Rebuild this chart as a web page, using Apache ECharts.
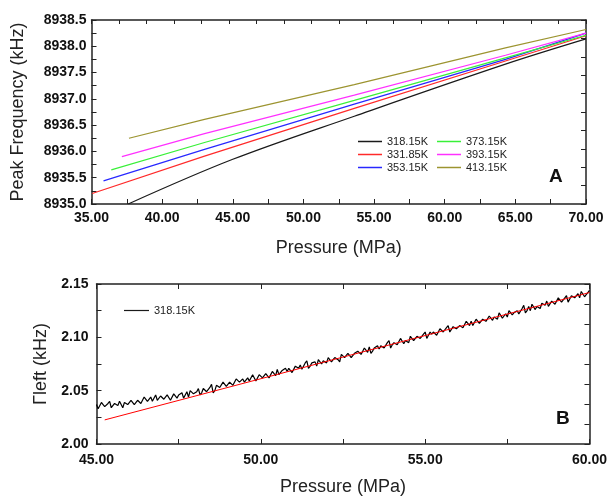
<!DOCTYPE html>
<html>
	<head>
		<meta charset="utf-8">
		<title>Peak frequency / Γleft vs pressure</title>
		<script src="https://cdn.jsdelivr.net/npm/echarts@6/dist/echarts.min.js"></script>
		<style>
			html,body {
				margin: 0;
				padding: 0;
				background-color: #fff;
			}
			#main{
				width: 610px;
				height: 497px;
			}
		</style>
	</head>
	<body>
		<div id="main"></div>
	<script>
		// ---- panel A : peak frequency vs pressure ----
		var tempsA = ['318.15K', '331.85K', '353.15K', '373.15K', '393.15K', '413.15K'];
		var pressA318 = [37.6, 45.0, 53.6, 64.3, 70.0];
		var freqA318  = [8935.00, 8935.85, 8936.67, 8937.66, 8938.14];
		var pressA331 = [35.05, 43.0, 53.6, 64.3, 70.0];
		var freqA331  = [8935.20, 8935.91, 8936.82, 8937.72, 8938.20];
		var pressA353 = [35.85, 43.0, 53.6, 64.3, 70.0];
		var freqA353  = [8935.44, 8936.04, 8936.90, 8937.75, 8938.25];
		var pressA373 = [36.4, 43.0, 53.6, 64.3, 70.0];
		var freqA373  = [8935.65, 8936.17, 8936.97, 8937.78, 8938.21];
		var pressA393 = [37.15, 43.0, 53.6, 64.3, 70.0];
		var freqA393  = [8935.90, 8936.34, 8937.07, 8937.83, 8938.25];
		var pressA413 = [37.65, 43.0, 53.6, 64.3, 70.0];
		var freqA413  = [8936.25, 8936.61, 8937.27, 8937.97, 8938.32];

		// ---- panel B : Γleft at 318.15K, sampled every 0.05 MPa from 45.0 ----
		var pressB0 = 45.0, pressBStep = 0.05;
		var gammaB = [
			2.037, 2.033, 2.032, 2.039, 2.037, 2.035, 2.035, 2.038, 2.040, 2.034,
			2.035, 2.038, 2.037, 2.036, 2.040, 2.041, 2.034, 2.039, 2.040, 2.037,
			2.038, 2.041, 2.042, 2.037, 2.038, 2.041, 2.041, 2.038, 2.038, 2.044,
			2.043, 2.040, 2.041, 2.044, 2.040, 2.039, 2.046, 2.041, 2.042, 2.045,
			2.044, 2.042, 2.042, 2.046, 2.047, 2.041, 2.042, 2.047, 2.046, 2.043,
			2.046, 2.047, 2.048, 2.043, 2.046, 2.049, 2.044, 2.050, 2.050, 2.047,
			2.048, 2.049, 2.052, 2.046, 2.048, 2.052, 2.051, 2.049, 2.050, 2.053,
			2.056, 2.048, 2.050, 2.055, 2.055, 2.053, 2.052, 2.058, 2.057, 2.054,
			2.055, 2.058, 2.059, 2.055, 2.055, 2.061, 2.061, 2.058, 2.059, 2.061,
			2.058, 2.059, 2.062, 2.059, 2.060, 2.065, 2.065, 2.059, 2.059, 2.065,
			2.066, 2.062, 2.063, 2.066, 2.066, 2.062, 2.063, 2.068, 2.068, 2.064,
			2.070, 2.065, 2.066, 2.069, 2.068, 2.071, 2.068, 2.071, 2.072, 2.067,
			2.068, 2.073, 2.072, 2.071, 2.074, 2.070, 2.071, 2.076, 2.078, 2.071,
			2.073, 2.076, 2.075, 2.077, 2.073, 2.079, 2.079, 2.075, 2.078, 2.077,
			2.076, 2.081, 2.082, 2.077, 2.079, 2.081, 2.081, 2.079, 2.077, 2.084,
			2.084, 2.081, 2.083, 2.085, 2.086, 2.081, 2.082, 2.085, 2.084, 2.087,
			2.088, 2.084, 2.083, 2.090, 2.088, 2.086, 2.091, 2.085, 2.087, 2.090,
			2.090, 2.092, 2.089, 2.092, 2.093, 2.090, 2.089, 2.095, 2.097, 2.090,
			2.093, 2.095, 2.095, 2.093, 2.093, 2.099, 2.098, 2.094, 2.097, 2.098,
			2.095, 2.101, 2.101, 2.097, 2.098, 2.101, 2.101, 2.099, 2.099, 2.103,
			2.105, 2.099, 2.100, 2.105, 2.103, 2.105, 2.105, 2.102, 2.102, 2.108,
			2.108, 2.105, 2.105, 2.109, 2.111, 2.105, 2.106, 2.110, 2.110, 2.108,
			2.109, 2.111, 2.112, 2.109, 2.108, 2.115, 2.113, 2.111, 2.115, 2.111,
			2.112, 2.117, 2.117, 2.113, 2.114, 2.117, 2.116, 2.115, 2.114, 2.120,
			2.120, 2.116, 2.119, 2.118, 2.117, 2.123, 2.123, 2.118, 2.120, 2.122,
			2.119, 2.125, 2.124, 2.121, 2.123, 2.123, 2.125, 2.122, 2.123, 2.127,
			2.130, 2.123, 2.125, 2.129, 2.125, 2.131, 2.130, 2.126, 2.129, 2.130,
			2.127, 2.132, 2.131, 2.130, 2.134, 2.129, 2.130, 2.134, 2.134, 2.131,
			2.132, 2.137, 2.136, 2.133, 2.134, 2.137, 2.139, 2.133, 2.134, 2.139,
			2.139, 2.137, 2.138, 2.141, 2.137, 2.143, 2.143, 2.138, 2.140, 2.142,
			2.144
		];
		// linear fit (red)
		var pressFitB = [45.25, 52.5, 60.0];
		var gammaFitB = [2.0226, 2.0815, 2.1420];

		var colorsA = ['#1a1a1a', '#ff2a2a', '#2828ff', '#38f038', '#ff30ff', '#9c9430'];
		var font = '"Liberation Sans", Arial, sans-serif';

		var byId = function(id) {
			return document.getElementById(id);
		};
		var pairs = function(xs, ys) {
			return xs.map(function(x, i) { return [x, ys[i]]; });
		};

		var seriesA = [
			pairs(pressA318, freqA318),
			pairs(pressA331, freqA331),
			pairs(pressA353, freqA353),
			pairs(pressA373, freqA373),
			pairs(pressA393, freqA393),
			pairs(pressA413, freqA413)
		];
		var dataB = gammaB.map(function(g, i) {
			return [pressB0 + i * pressBStep, g];
		});

		var frame = { show: true, lineStyle: { color: '#222', width: 1.5 } };
		var boldLabel = { fontFamily: font, fontWeight: 'bold', fontSize: 14, color: '#111' };
		var titleText = { fontFamily: font, fontSize: 18, color: '#222' };
		var legendText = { fontFamily: font, fontSize: 11, color: '#222' };

		var chart = echarts.init(byId('main'));
		var series = [];
		tempsA.forEach(function(t, i) {
			series.push({
				name: t,
				type: 'line',
				xAxisIndex: 0,
				yAxisIndex: 0,
				data: seriesA[i],
				symbol: 'none',
				smooth: i === 0 ? 0.35 : false,
				clip: true,
				lineStyle: { color: colorsA[i], width: 1.2 },
				itemStyle: { color: colorsA[i] }
			});
		});
		series.push({
			name: '318.15K',
			type: 'line',
			xAxisIndex: 2,
			yAxisIndex: 2,
			data: dataB,
			symbol: 'none',
			lineStyle: { color: '#000', width: 1.2 },
			itemStyle: { color: '#000' },
			z: 2
		});
		series.push({
			name: 'fit',
			type: 'line',
			xAxisIndex: 2,
			yAxisIndex: 2,
			data: pairs(pressFitB, gammaFitB),
			symbol: 'none',
			lineStyle: { color: '#ff0000', width: 1 },
			itemStyle: { color: '#ff0000' },
			z: 3
		});

		var option = {
			animation: false,
			backgroundColor: '#fff',
			title: [
				{ text: 'A', left: 549, top: 167, padding: 0,
				  textStyle: { fontFamily: font, fontSize: 19, fontWeight: 'bold', color: '#111' } },
				{ text: 'B', left: 556, top: 409, padding: 0,
				  textStyle: { fontFamily: font, fontSize: 19, fontWeight: 'bold', color: '#111' } }
			],
			legend: [
				{ data: tempsA.slice(0, 3), orient: 'vertical', left: 358, top: 136,
				  icon: 'rect', itemWidth: 24, itemHeight: 1.5, itemGap: 2, padding: 0,
				  textStyle: legendText },
				{ data: tempsA.slice(3, 6), orient: 'vertical', left: 437, top: 136,
				  icon: 'rect', itemWidth: 24, itemHeight: 1.5, itemGap: 2, padding: 0,
				  textStyle: legendText },
				{ data: ['318.15K'], orient: 'vertical', left: 124, top: 305,
				  icon: 'rect', itemWidth: 25, itemHeight: 1.2, padding: 0, selectedMode: false,
				  textStyle: legendText }
			],
			grid: [
				{ left: 91.5, top: 20, width: 494.5, height: 184 },
				{ left: 96.5, top: 284, width: 494, height: 162 }
			],
			xAxis: [
				{ gridIndex: 0, type: 'value', min: 35, max: 70, interval: 5, position: 'bottom',
				  name: 'Pressure (MPa)', nameLocation: 'middle', nameGap: 35, nameTextStyle: titleText,
				  axisLine: frame, splitLine: { show: false },
				  axisTick: { inside: true, length: 5, lineStyle: { color: '#222' } },
				  minorTick: { show: true, splitNumber: 2, length: 5, lineStyle: { color: '#222' } },
				  axisLabel: Object.assign({ margin: 7, formatter: function(v) { return v.toFixed(2); } }, boldLabel) },
				{ gridIndex: 0, type: 'value', min: 0, max: 18, interval: 1, position: 'top',
				  axisLine: frame, splitLine: { show: false }, axisLabel: { show: false },
				  axisTick: { inside: true, length: 4, lineStyle: { color: '#222' } } },
				{ gridIndex: 1, type: 'value', min: 45, max: 60, interval: 5, position: 'bottom',
				  name: 'Pressure (MPa)', nameLocation: 'middle', nameGap: 34, nameTextStyle: titleText,
				  axisLine: frame, splitLine: { show: false },
				  axisTick: { inside: true, length: 5, lineStyle: { color: '#222' } },
				  minorTick: { show: true, splitNumber: 2, length: 5, lineStyle: { color: '#222' } },
				  axisLabel: Object.assign({ margin: 9, formatter: function(v) { return v.toFixed(2); } }, boldLabel) },
				{ gridIndex: 1, type: 'value', min: 45, max: 60, interval: 2.5, position: 'top',
				  axisLine: frame, splitLine: { show: false }, axisLabel: { show: false },
				  axisTick: { inside: true, length: 5, lineStyle: { color: '#222' } } }
			],
			yAxis: [
				{ gridIndex: 0, type: 'value', min: 8935, max: 8938.5, interval: 0.5, position: 'left',
				  name: 'Peak Frequency (kHz)', nameLocation: 'middle', nameGap: 64, nameTextStyle: titleText,
				  axisLine: frame, splitLine: { show: false },
				  axisTick: { inside: true, length: 5, lineStyle: { color: '#222' } },
				  minorTick: { show: true, splitNumber: 2, length: 5, lineStyle: { color: '#222' } },
				  axisLabel: Object.assign({ margin: 5, formatter: function(v) { return v.toFixed(1); } }, boldLabel) },
				{ gridIndex: 0, type: 'value', min: 0, max: 10, interval: 1, position: 'right',
				  axisLine: frame, splitLine: { show: false }, axisLabel: { show: false },
				  axisTick: { inside: true, length: 5, lineStyle: { color: '#222' } } },
				{ gridIndex: 1, type: 'value', min: 2.0, max: 2.15, interval: 0.05, position: 'left',
				  name: 'Γleft (kHz)', nameLocation: 'middle', nameGap: 44, nameTextStyle: titleText,
				  axisLine: frame, splitLine: { show: false },
				  axisTick: { inside: true, length: 5, lineStyle: { color: '#222' } },
				  minorTick: { show: true, splitNumber: 2, length: 5, lineStyle: { color: '#222' } },
				  axisLabel: Object.assign({ margin: 8, formatter: function(v) { return v.toFixed(2); } }, boldLabel) },
				{ gridIndex: 1, type: 'value', min: 0, max: 8, interval: 1, position: 'right',
				  axisLine: frame, splitLine: { show: false }, axisLabel: { show: false },
				  axisTick: { inside: true, length: 5, lineStyle: { color: '#222' } } }
			],
			series: series
		};
		chart.setOption(option);
	</script>
	</body>
</html>
